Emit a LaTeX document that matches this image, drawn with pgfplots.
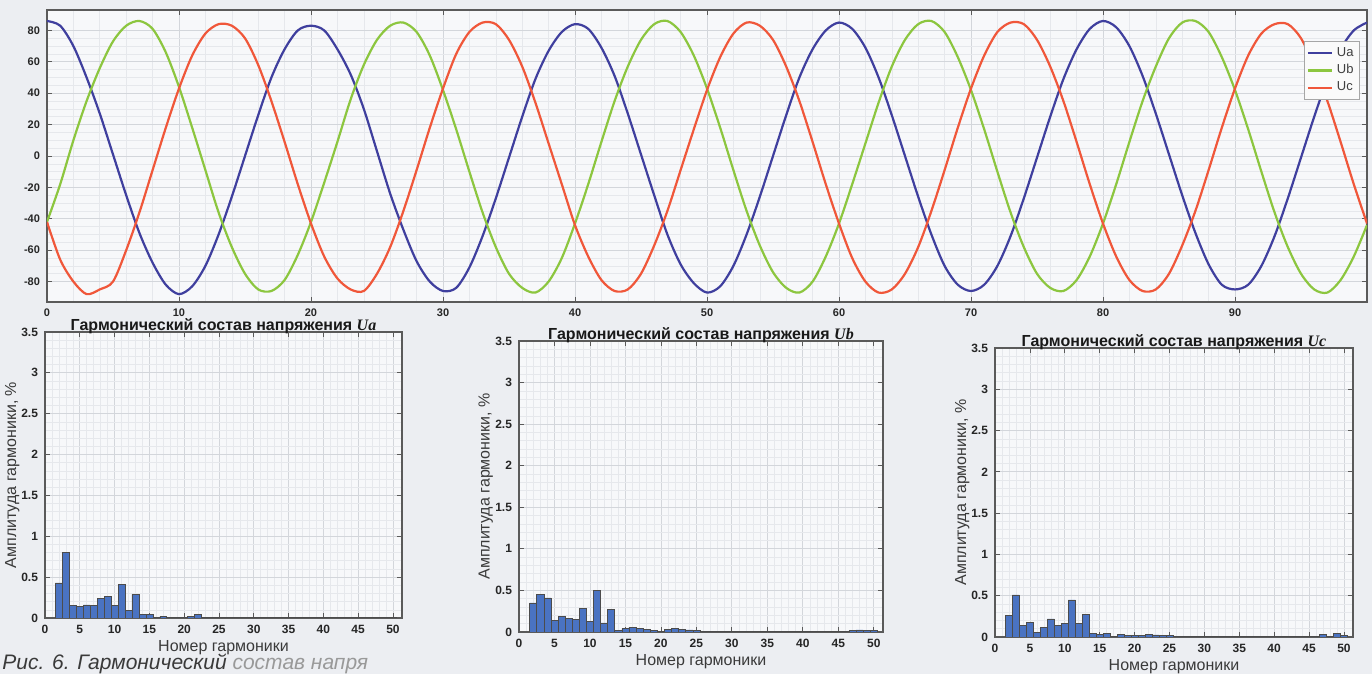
\documentclass[border=0pt]{standalone}
\usepackage{fontspec}
\setmainfont{Liberation Sans}
\newfontfamily\serifit{Liberation Serif}
\usepackage{pgfplots}
\pgfplotsset{compat=1.18}
\definecolor{pagebg}{HTML}{ECEEF2}
\definecolor{plotbg}{HTML}{F7F8FA}
\definecolor{ua}{HTML}{3F3F9E}
\definecolor{ub}{HTML}{8CC63F}
\definecolor{uc}{HTML}{F0573A}
\definecolor{barfill}{HTML}{4A73C2}
\definecolor{gridmaj}{HTML}{D3D6DB}
\definecolor{gridmin}{HTML}{E6E8EC}
\definecolor{axcol}{HTML}{5A5A5A}
\definecolor{labcol}{HTML}{3A3A3A}
\pgfplotsset{
  common/.style={
    scale only axis,
    axis background/.style={fill=plotbg},
    axis line style={axcol, line width=0.6pt},
    tick style={axcol, line width=0.4pt},
    major tick length=2.5pt,
    minor tick length=0pt,
    grid=both,
    major grid style={gridmaj, line width=0.4pt},
    minor grid style={gridmin, line width=0.3pt},
    /pgf/number format/assume math mode=true,
    tick label style={font=\bfseries\fontsize{6}{7}\selectfont, text=black!85},
  },
  harm/.style={common, xmin=0, xmax=51.3, ymin=0, ymax=3.5,
    xtick={0,5,10,15,20,25,30,35,40,45,50},
    ytick={0,0.5,1,1.5,2,2.5,3,3.5},
    minor x tick num=4, minor y tick num=4,
    xlabel={Номер гармоники}, ylabel={Амплитуда гармоники, \%},
    label style={font=\fontsize{8}{9}\selectfont, text=labcol},
    ylabel style={at={(axis description cs:-0.052,0.5)}, anchor=south},
    xlabel style={at={(axis description cs:0.5,-0.115)}, anchor=base},
    every axis title shift=0pt,
    title style={font=\bfseries\fontsize{8}{9}\selectfont, text=black!90, at={(axis description cs:0.5,1)}, anchor=base, yshift=0.8pt},
  },
  bars/.style={ybar, bar width=1, bar shift=0pt, fill=barfill, draw=black!70, line width=0.3pt},
}
\begin{document}
\begin{tikzpicture}
\path[use as bounding box] (0,0) rectangle (686pt,337pt);
\fill[pagebg] (0,0) rectangle (686pt,337pt);

\begin{axis}[common,
  at={(23.5pt,186pt)}, anchor=south west,
  width=660pt, height=146pt,
  xmin=0, xmax=100, ymin=-93, ymax=93,
  xtick={0,10,20,30,40,50,60,70,80,90},
  ytick={-80,-60,-40,-20,0,20,40,60,80},
  minor x tick num=4, minor y tick num=3,
  tick label style={font=\bfseries\fontsize{5.5}{6}\selectfont},
  legend style={at={(1,1)}, anchor=north east, xshift=-3.5pt, yshift=-15.5pt,
    font=\fontsize{6.5}{7}\selectfont, draw=gray!70, fill=white!96!gray,
    inner sep=1pt, row sep=-1.5pt, text=black!75},
  legend cell align=left,
  legend image code/.code={\draw[#1] (0pt,0pt) -- (12pt,0pt);},
]
\addplot[ua, line width=1.1pt, smooth] coordinates {
(0,86)(1,83)(2,70)(3,50)(4,27)(5,1)(6,-25)(7,-49)(8,-68)(9,-82)(10,-88)(11,-83)(12,-70)(13,-50)(14,-26)(15,0)(16,26)(17,50)(18,68)(19,80)(20,83)(21,80)(22,68)(23,52)(24,30)(25,3)(26,-24)(27,-47)(28,-67)(29,-80)(30,-86)(31,-84)(32,-71)(33,-51)(34,-27)(35,-1)(36,25)(37,49)(38,67)(39,79)(40,84)(41,81)(42,69)(43,51)(44,27)(45,1)(46,-25)(47,-50)(48,-69)(49,-81)(50,-87)(51,-83)(52,-70)(53,-50)(54,-26)(55,0)(56,26)(57,50)(58,68)(59,80)(60,85)(61,81)(62,69)(63,50)(64,26)(65,0)(66,-26)(67,-50)(68,-70)(69,-82)(70,-86)(71,-82)(72,-70)(73,-51)(74,-27)(75,-1)(76,25)(77,49)(78,68)(79,81)(80,86)(81,82)(82,70)(83,51)(84,27)(85,1)(86,-25)(87,-49)(88,-69)(89,-82)(90,-85)(91,-82)(92,-70)(93,-51)(94,-27)(95,-1)(96,25)(97,49)(98,68)(99,80)(100,85)
};
\addlegendentry{Ua}
\addplot[ub, line width=1.1pt, smooth] coordinates {
(0,-42)(1,-18)(2,10)(3,35)(4,56)(5,73)(6,83)(7,86)(8,81)(9,66)(10,44)(11,18)(12,-9)(13,-36)(14,-58)(15,-75)(16,-85)(17,-86)(18,-79)(19,-63)(20,-42)(21,-17)(22,9)(23,36)(24,58)(25,74)(26,83)(27,85)(28,79)(29,64)(30,42)(31,17)(32,-10)(33,-36)(34,-58)(35,-75)(36,-84)(37,-87)(38,-80)(39,-65)(40,-43)(41,-18)(42,9)(43,35)(44,57)(45,74)(46,84)(47,86)(48,79)(49,64)(50,43)(51,18)(52,-9)(53,-35)(54,-57)(55,-74)(56,-84)(57,-87)(58,-80)(59,-64)(60,-43)(61,-18)(62,8)(63,34)(64,57)(65,74)(66,84)(67,86)(68,79)(69,63)(70,42)(71,17)(72,-10)(73,-36)(74,-58)(75,-75)(76,-84)(77,-86)(78,-79)(79,-64)(80,-43)(81,-18)(82,9)(83,35)(84,57)(85,75)(86,85)(87,86)(88,79)(89,63)(90,42)(91,17)(92,-10)(93,-36)(94,-58)(95,-75)(96,-85)(97,-87)(98,-79)(99,-64)(100,-44)
};
\addlegendentry{Ub}
\addplot[uc, line width=1.1pt, smooth] coordinates {
(0,-42)(1,-66)(2,-80)(3,-88)(4,-85)(5,-80)(6,-60)(7,-36)(8,-9)(9,18)(10,43)(11,64)(12,78)(13,84)(14,83)(15,75)(16,58)(17,35)(18,9)(19,-18)(20,-43)(21,-64)(22,-78)(23,-85)(24,-86)(25,-75)(26,-58)(27,-35)(28,-9)(29,18)(30,43)(31,65)(32,79)(33,85)(34,84)(35,74)(36,57)(37,34)(38,8)(39,-18)(40,-44)(41,-64)(42,-79)(43,-86)(44,-85)(45,-75)(46,-57)(47,-35)(48,-9)(49,17)(50,42)(51,63)(52,78)(53,85)(54,83)(55,74)(56,57)(57,35)(58,9)(59,-18)(60,-43)(61,-65)(62,-80)(63,-87)(64,-85)(65,-75)(66,-58)(67,-35)(68,-9)(69,18)(70,43)(71,64)(72,79)(73,85)(74,84)(75,74)(76,57)(77,35)(78,9)(79,-18)(80,-43)(81,-64)(82,-79)(83,-86)(84,-85)(85,-75)(86,-57)(87,-35)(88,-9)(89,18)(90,43)(91,64)(92,78)(93,84)(94,84)(95,75)(96,57)(97,35)(98,9)(99,-18)(100,-43)
};
\addlegendentry{Uc}
\end{axis}

\begin{axis}[harm, at={(22.5pt,28pt)}, anchor=south west, width=178.5pt, height=143pt,
  xlabel style={at={(axis description cs:0.5,-0.1154)}, anchor=base},
  title={Гармонический состав напряжения {\serifit\bfseries\itshape Ua}}]
\addplot[bars] coordinates {
(2,0.43)(3,0.80)(4,0.15)(5,0.14)(6,0.16)(7,0.15)(8,0.24)(9,0.26)(10,0.15)(11,0.41)(12,0.09)(13,0.29)(14,0.04)(15,0.04)(16,0.01)(17,0.02)(18,0.01)(19,0.012)(20,0.01)(21,0.02)(22,0.04)(23,0.003)(24,0.008)(25,0.012)(26,0.005)(27,0.004)(28,0.003)(29,0.008)(30,0.01)(31,0.01)(32,0.004)(33,0.003)(34,0.004)(35,0.006)(36,0.003)(37,0.005)(38,0.004)(39,0.007)(40,0.006)(41,0.006)(42,0.004)(43,0.003)(44,0.004)(45,0.007)(46,0.003)(47,0.008)(48,0.01)(49,0.01)(50,0.005)
};
\end{axis}

\begin{axis}[harm, at={(259.5pt,21pt)}, anchor=south west, width=182pt, height=145.5pt,
  title={Гармонический состав напряжения {\serifit\bfseries\itshape Ub}}]
\addplot[bars] coordinates {
(2,0.35)(3,0.45)(4,0.41)(5,0.14)(6,0.19)(7,0.16)(8,0.15)(9,0.28)(10,0.13)(11,0.50)(12,0.11)(13,0.27)(14,0.02)(15,0.04)(16,0.06)(17,0.04)(18,0.03)(19,0.015)(20,0.01)(21,0.03)(22,0.04)(23,0.03)(24,0.025)(25,0.015)(26,0.005)(27,0.004)(28,0.005)(29,0.006)(30,0.005)(31,0.006)(32,0.004)(33,0.006)(34,0.01)(35,0.007)(36,0.004)(37,0.003)(38,0.005)(39,0.004)(40,0.003)(41,0.006)(42,0.01)(43,0.005)(44,0.006)(45,0.008)(46,0.008)(47,0.015)(48,0.025)(49,0.02)(50,0.02)
};
\end{axis}

\begin{axis}[harm, at={(497.5pt,18.5pt)}, anchor=south west, width=179pt, height=144.5pt,
  xlabel style={at={(axis description cs:0.5,-0.1176)}, anchor=base},
  title={Гармонический состав напряжения {\serifit\bfseries\itshape Uc}}]
\addplot[bars] coordinates {
(2,0.26)(3,0.51)(4,0.14)(5,0.18)(6,0.06)(7,0.12)(8,0.22)(9,0.14)(10,0.16)(11,0.45)(12,0.16)(13,0.27)(14,0.04)(15,0.03)(16,0.04)(17,0.01)(18,0.03)(19,0.015)(20,0.015)(21,0.015)(22,0.03)(23,0.025)(24,0.02)(25,0.02)(26,0.01)(27,0.006)(28,0.004)(29,0.003)(30,0.007)(31,0.006)(32,0.003)(33,0.005)(34,0.01)(35,0.004)(36,0.005)(37,0.006)(38,0.003)(39,0.006)(40,0.005)(41,0.007)(42,0.005)(43,0.004)(44,0.003)(45,0.005)(46,0.006)(47,0.03)(48,0.005)(49,0.04)(50,0.02)
};
\end{axis}

\node[anchor=base west, inner sep=0pt, font=\itshape\fontsize{10.5}{11}\selectfont] at (1pt,2pt)
  {\textcolor{labcol}{Рис. 6. Гармонический}\ \textcolor{black!40}{состав напря}};
\end{tikzpicture}
\end{document}
